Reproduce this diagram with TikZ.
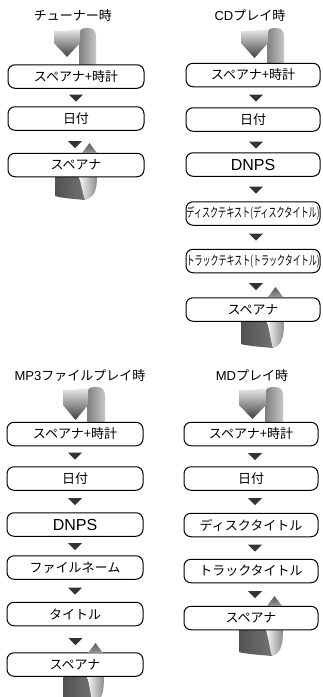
\documentclass[tikz,border=0pt]{standalone}
\usepackage{fontspec}
\usepackage{graphicx}
\setmainfont{Liberation Sans}
\newfontfamily\jp{Noto Sans CJK JP}
\usetikzlibrary{shadings}
\definecolor{darktri}{HTML}{333333}
\tikzset{
  modebox/.style={draw=black, line width=1pt, rounded corners=7pt, inner sep=0pt,
    minimum height=23.5pt, fill=white, font=\jp\fontsize{13}{13}\selectfont},
  wbox/.style={modebox, minimum width=136pt},
  nbox/.style={modebox, minimum width=134pt},
  paneltitle/.style={inner sep=0pt, font=\jp\fontsize{13}{13}\selectfont},
}
\newcommand{\dtri}[2]{\fill[darktri] ({#1-7},{#2-3.5}) -- ({#1+7},{#2-3.5}) -- (#1,{#2+3.5}) -- cycle;}
\newcommand{\utri}[2]{\shade[top color=black!65, bottom color=black!40] ({#1-7.5},#2) -- ({#1+7.5},#2) -- (#1,{#2-10}) -- cycle;}
% a b c top tritop tip boxtop
\newcommand{\topribbon}[7]{%
  \shade[left color=black!50, right color=black!22]
    ({#2-1},#7) -- ({#2-1},{#4+8}) .. controls ({#2-1},{#4+1}) and ({#2+2},#4) .. ({(#2+#3)/2},#4)
    .. controls ({#3-2},#4) and (#3,{#4+3}) .. (#3,{#4+9}) -- (#3,#7) -- cycle;
  \shade[top color=black!8, bottom color=black!75]
    (#1,{#4+3}) .. controls ({(#1+#2)/2},{#4+3}) .. ({#2-1},{#4+1}) -- (#2,{#4+4}) -- (#2,#5) -- ({(#1+#2)/2},#6) -- (#1,#5) -- cycle;
}
% a b c boxbottom bottom
\newcommand{\botribbon}[5]{%
  \shade[left color=black!68, right color=black!55]
    (#1,#4) -- (#1,{#5-3}) .. controls ({#1+6},{#5-1}) and ({#2-4},#5) .. ({#2+6},{#5+1}) -- ({#2+3},#4) -- cycle;
  \shade[left color=black!3, right color=black!45]
    (#2,#4) .. controls ({#2+3},{#4+10}) and ({#2+4},{#5-4}) .. ({#2+6},{#5+1})
    .. controls ({#3-2},{#5-2}) and (#3,{#5-10}) .. (#3,#4) -- cycle;
}
\newcommand{\squeeze}[1]{\makebox[0pt][c]{\resizebox{133pt}{\height}{#1}}}
\begin{document}
\begin{tikzpicture}[x=1pt,y=-1pt]
\useasboundingbox[fill=white] (0,0) rectangle (322,697);

% ---------- Panel 1: tuner ----------
\node[paneltitle] (t1) at (73,16) {チューナー時};
\topribbon{54}{80}{96}{28}{43}{57}{65}
\botribbon{55}{79}{97}{177}{199}
\node[wbox] (p1b1) at (76,76.5) {スペアナ+時計};
\node[wbox] (p1b2) at (76,118.5) {日付};
\node[wbox] (p1b3) at (76,165) {スペアナ};
\dtri{76}{98}
\dtri{75}{144.5}
\utri{89.5}{153}

% ---------- Panel 2: CD ----------
\node[paneltitle] (t2) at (250,16) {{\fontspec{Liberation Sans}CD}プレイ時};
\topribbon{241}{268}{284}{28}{43}{58}{63}
\botribbon{241}{267}{284}{322}{347}
\node[nbox] (p2b1) at (253,75) {スペアナ+時計};
\node[nbox] (p2b2) at (253,119.5) {日付};
\node[nbox] (p2b3) at (253,164.5) {\fontspec{Liberation Sans}\fontsize{16}{16}\selectfont DNPS};
\node[nbox] (p2b4) at (253,213.5) {\squeeze{ディスクテキスト(ディスクタイトル)}};
\node[nbox] (p2b5) at (253,261) {\squeeze{トラックテキスト(トラックタイトル)}};
\node[nbox] (p2b6) at (253,309.5) {スペアナ};
\dtri{256}{98}
\dtri{256}{145}
\dtri{256}{190}
\dtri{256}{237}
\dtri{256}{286.5}
\utri{275.5}{297}

% ---------- Panel 3: MP3 ----------
\node[paneltitle] (t3) at (80,376) {{\fontspec{Liberation Sans}MP3}ファイルプレイ時};
\topribbon{63}{88}{105}{387}{405}{420}{422}
\botribbon{63}{87}{104}{676}{703}
\node[wbox] (p3b1) at (75,434) {スペアナ+時計};
\node[wbox] (p3b2) at (75,478.5) {日付};
\node[wbox] (p3b3) at (75,524.5) {\fontspec{Liberation Sans}\fontsize{16}{16}\selectfont DNPS};
\node[wbox] (p3b4) at (75,567.5) {ファイルネーム};
\node[wbox] (p3b5) at (75,614) {タイトル};
\node[wbox] (p3b6) at (75,664.5) {スペアナ};
\dtri{75}{456}
\dtri{75}{501.5}
\dtri{75}{546.5}
\dtri{75}{591}
\dtri{75.5}{641.5}
\utri{95.5}{653}

% ---------- Panel 4: MD ----------
\node[paneltitle] (t4) at (252,376) {{\fontspec{Liberation Sans}MD}プレイ時};
\topribbon{239}{266}{283}{387}{405}{419}{422}
\botribbon{239}{266}{283}{630}{655}
\node[nbox] (p4b1) at (251,434) {スペアナ+時計};
\node[nbox] (p4b2) at (251,478.5) {日付};
\node[nbox] (p4b3) at (251,525) {ディスクタイトル};
\node[nbox] (p4b4) at (251,571) {トラックタイトル};
\node[nbox] (p4b5) at (251,618) {スペアナ};
\dtri{255}{456.5}
\dtri{255}{501.5}
\dtri{255}{548}
\dtri{255}{594.5}
\utri{274.5}{606}
\end{tikzpicture}
\end{document}
